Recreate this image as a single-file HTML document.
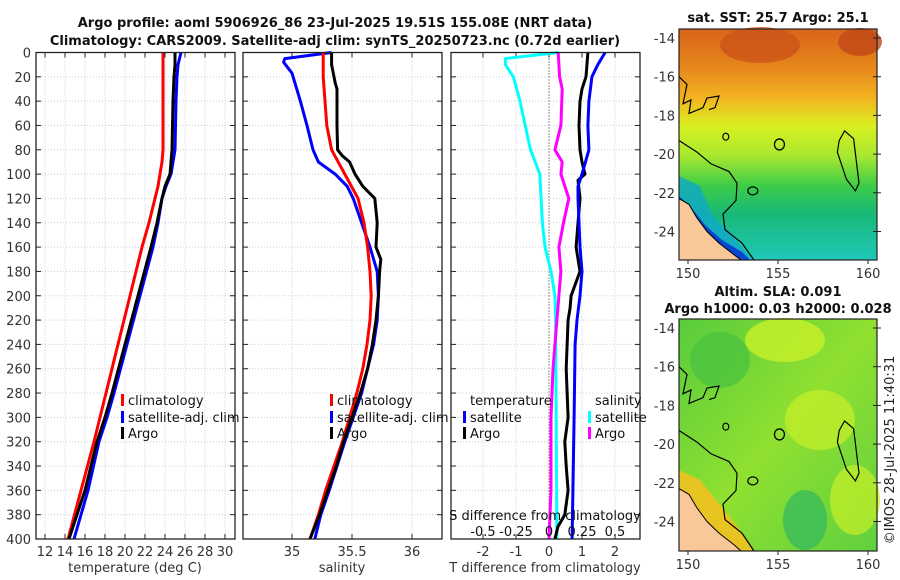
<!DOCTYPE html>
<html><head><meta charset="utf-8"><style>
body{margin:0;background:#fff;}
svg{display:block;font-family:"DejaVu Sans","Liberation Sans",sans-serif;}
</style></head><body>
<svg id="c" width="900" height="580" viewBox="0 0 900 580">
<defs>
<linearGradient id="sst" x1="0" y1="0" x2="0" y2="1">
<stop offset="0" stop-color="#d8641a"/><stop offset="0.18" stop-color="#e88a1c"/><stop offset="0.3" stop-color="#f2b420"/>
<stop offset="0.42" stop-color="#d8f020"/><stop offset="0.55" stop-color="#a8e830"/><stop offset="0.68" stop-color="#3ccc48"/>
<stop offset="0.8" stop-color="#18b878"/><stop offset="1" stop-color="#20c8b8"/></linearGradient>
<linearGradient id="sla" x1="0" y1="0" x2="1" y2="1">
<stop offset="0" stop-color="#58cc3c"/><stop offset="0.5" stop-color="#90e030"/><stop offset="1" stop-color="#60d040"/></linearGradient>
</defs>
</svg>
<script>
// ---- data (depth in m) ----
const tDepth=[0,10,20,40,80,90,100,110,120,140,160,200,240,280,300,320,360,400];
const tClim=[23.8,23.8,23.8,23.8,23.8,23.7,23.5,23.3,23.0,22.4,21.7,20.5,19.3,18.1,17.5,16.9,15.6,14.3];
const tArgo=[25.0,25.0,24.9,24.8,24.7,24.6,24.5,24.0,23.7,23.2,22.6,21.3,20.0,18.7,18.0,17.2,16.0,14.4];
const tSat=[25.6,25.3,25.2,25.1,25.0,24.8,24.6,24.1,23.7,23.3,22.8,21.5,20.2,18.9,18.2,17.4,16.3,14.9];
const sDepthSat=[0,5,8,17,40,60,80,90,100,110,120,140,160,180,200,220,240,260,280,300,320,340,360,380,400];
const sSat=[35.33,34.94,34.93,35.0,35.07,35.125,35.175,35.22,35.36,35.46,35.51,35.58,35.65,35.71,35.72,35.71,35.68,35.63,35.58,35.51,35.44,35.375,35.31,35.24,35.19];
const sDepthClim=[0,20,40,60,80,100,120,140,160,180,200,220,240,260,280,300,320,340,360,380,400];
const sClim=[35.26,35.26,35.275,35.29,35.33,35.44,35.55,35.6,35.63,35.65,35.66,35.65,35.625,35.59,35.54,35.48,35.42,35.35,35.28,35.22,35.15];
const sDepthArgo=[0,10,25,30,60,80,85,90,100,110,120,140,160,170,180,200,210,220,240,260,280,300,320,340,360,380,400];
const sArgo=[35.33,35.33,35.36,35.375,35.375,35.38,35.42,35.48,35.525,35.59,35.69,35.71,35.70,35.74,35.73,35.72,35.71,35.70,35.67,35.63,35.57,35.5,35.43,35.37,35.3,35.23,35.15];
const dDepthTSat=[0,10,20,40,60,80,100,110,120,160,180,200,220,240,300,400];
const dTSat=[1.70,1.48,1.30,1.21,1.18,1.21,1.0,0.88,0.88,0.94,1.0,0.94,0.85,0.79,0.76,0.70];
const dDepthTArgo=[0,20,30,40,60,80,90,100,105,120,140,160,180,200,210,220,260,300,320,340,360,380,390,400];
const dTArgo=[1.18,1.12,1.0,0.94,0.91,0.94,1.0,1.09,0.88,0.94,0.88,0.82,0.94,0.67,0.64,0.58,0.52,0.58,0.48,0.52,0.58,0.48,0.27,0.18];
const dDepthSSat=[0,5,10,20,40,60,80,100,140,160,180,200,220,400];
const dSSat=[0.07,-0.33,-0.33,-0.27,-0.22,-0.18,-0.14,-0.07,-0.05,-0.03,0.015,0.045,0.05,0.06];
const dDepthSArgo=[0,20,30,60,80,90,100,120,140,160,180,200,220,260,300,360,400];
const dSArgo=[0.07,0.08,0.1,0.09,0.045,0.1,0.09,0.15,0.11,0.075,0.09,0.075,0.06,0.03,0.015,0.015,0.0];
const depthTicks=[0,20,40,60,80,100,120,140,160,180,200,220,240,260,280,300,320,340,360,380,400];
const tTicks=[12,14,16,18,20,22,24,26,28,30];
const sTicks=[35,35.5,36];
const dtTicks=[-2,-1,0,1,2];
const dsTicks=[-0.5,-0.25,0,0.25,0.5];
const dsTickLabels=["-0.5","-0.25","0","0.25","0.5"];
const latTicks=[-14,-16,-18,-20,-22,-24];
const lonTicks=[150,155,160];

const svg=document.getElementById('c');
const NS='http://www.w3.org/2000/svg';
function mk(tag,a,parent){const e=document.createElementNS(NS,tag);for(const k in a)e.setAttribute(k,a[k]);(parent||svg).appendChild(e);return e;}
function txt(s,a,parent){const e=mk('text',a,parent);e.textContent=s;return e;}
const Y0=52.5,Y1=539;
const yD=d=>Y0+d*(Y1-Y0)/400;
const xT=t=>45+(t-12)*10;
const xS=s=>292+(s-35)*120;
const xDT=v=>549+v*33;
const xDS=v=>549+v*132;

function panel(name,x0,x1,xTicks,xf,labels){
  const g=mk('g',{},svg);
  
  
  depthTicks.forEach(d=>{const y=yD(d);mk('line',{x1:x0,x2:x1,y1:y,y2:y,stroke:'#c8cce0','stroke-width':1,'stroke-dasharray':'1,2'},g);
    mk('line',{x1:x0,x2:x0+5,y1:y,y2:y,stroke:'#222'},g);mk('line',{x1:x1-5,x2:x1,y1:y,y2:y,stroke:'#222'},g);});
  xTicks.forEach((t,i)=>{const x=xf(t);mk('line',{x1:x,x2:x,y1:Y0,y2:Y1,stroke:'#c8cce0','stroke-dasharray':'1,2'},g);
    mk('line',{x1:x,x2:x,y1:Y1,y2:Y1-5,stroke:'#222'},g);mk('line',{x1:x,x2:x,y1:Y0,y2:Y0+5,stroke:'#222'},g);
    if(labels){const l=txt(labels[i],{x:x,y:556,'font-size':13,'text-anchor':'middle',fill:'#333'},g);
      }});
  return g;
}
function frame(g,x0,x1){mk('rect',{x:x0,y:Y0,width:x1-x0,height:Y1-Y0,fill:'none',stroke:'#222','stroke-width':1.3},g);}
function line(g,name,dep,vals,xf,color){
  const p=mk('polyline',{points:dep.map((d,i)=>xf(vals[i]).toFixed(1)+','+yD(d).toFixed(1)).join(' '),fill:'none',stroke:color,'stroke-width':3,'stroke-linejoin':'round'},g);
  
}
function leg(g,x,y,color,label){
  mk('rect',{x:x,y:y-10,width:3,height:12,fill:color},g);
  const t=txt(label,{x:x+7,y:y+1,'font-size':13,fill:'#111'},g);
  
}

// titles
let t1=txt('Argo profile: aoml 5906926_86 23-Jul-2025 19.51S 155.08E (NRT data)',{x:335,y:27,'font-size':13,'font-weight':'bold','text-anchor':'middle',fill:'#111'});

let t2=txt('Climatology: CARS2009. Satellite-adj clim: synTS_20250723.nc (0.72d earlier)',{x:335,y:45,'font-size':13,'font-weight':'bold','text-anchor':'middle',fill:'#111'});


// panel 1
const p1=panel('temperature-panel',36,235,tTicks,xT,tTicks.map(String));
depthTicks.forEach(d=>{const l=txt(String(d),{x:31,y:yD(d)+5,'font-size':13,'text-anchor':'end',fill:'#333'},p1);
  });
line(p1,'temperature-climatology-line',tDepth,tClim,xT,'#ff0000');
line(p1,'temperature-satellite-line',tDepth,tSat,xT,'#0000ff');
line(p1,'temperature-argo-line',tDepth,tArgo,xT,'#000');
frame(p1,36,235);
leg(p1,121,404,'#ff0000','climatology');leg(p1,121,421,'#0000ff','satellite-adj. clim');leg(p1,121,437,'#000','Argo');
let xl1=txt('temperature (deg C)',{x:135,y:572,'font-size':13,'text-anchor':'middle',fill:'#333'},p1);


// panel 2
const p2=panel('salinity-panel',243,442,sTicks,xS,["35","35.5","36"]);
line(p2,'salinity-satellite-line',sDepthSat,sSat,xS,'#0000ff');
line(p2,'salinity-climatology-line',sDepthClim,sClim,xS,'#ff0000');
line(p2,'salinity-argo-line',sDepthArgo,sArgo,xS,'#000');
frame(p2,243,442);
leg(p2,330,404,'#ff0000','climatology');leg(p2,330,421,'#0000ff','satellite-adj. clim');leg(p2,330,437,'#000','Argo');
let xl2=txt('salinity',{x:342,y:572,'font-size':13,'text-anchor':'middle',fill:'#333'},p2);


// panel 3
const p3=panel('difference-panel',451,640,dtTicks,xDT,dtTicks.map(String));
mk('line',{x1:549,x2:549,y1:Y0,y2:Y1,stroke:'#554433','stroke-dasharray':'1,2','stroke-width':1.2},p3);
line(p3,'salinity-satellite-diff-line',dDepthSSat,dSSat,xDS,'#00ffff');
line(p3,'salinity-argo-diff-line',dDepthSArgo,dSArgo,xDS,'#ff00ff');
line(p3,'temperature-argo-diff-line',dDepthTArgo,dTArgo,xDT,'#000');
line(p3,'temperature-satellite-diff-line',dDepthTSat,dTSat,xDT,'#0000ff');
frame(p3,451,640);
txt('temperature',{x:470,y:405,'font-size':13,fill:'#111'},p3);
txt('salinity',{x:595,y:405,'font-size':13,fill:'#111'},p3);
leg(p3,463,421,'#0000ff','satellite');leg(p3,463,437,'#000','Argo');
leg(p3,588,421,'#00ffff','satellite');leg(p3,588,437,'#ff00ff','Argo');
txt('S difference from climatology',{x:545,y:520,'font-size':13,'text-anchor':'middle',fill:'#111'},p3);
dsTicks.forEach((v,i)=>{const l=txt(dsTickLabels[i],{x:xDS(v),y:536,'font-size':13,'text-anchor':'middle',fill:'#111'},p3);
  });
let xl3=txt('T difference from climatology',{x:545,y:572,'font-size':13,'text-anchor':'middle',fill:'#333'},p3);


// maps
function map(name,top,bot,latTop,fill){
  const g=mk('g',{},svg);
  
  const L=679,R=877;
  const yl=lat=>latTop+(-14-lat)*19.35;
  const xl=lon=>688+(lon-150)*18;
  mk('rect',{x:L,y:top,width:R-L,height:bot-top,fill:fill},g);
  return {g,L,R,yl,xl};
}
function mapDecor(m,top,bot){
  const {g,L,R,yl,xl}=m;
  mk('polygon',{points:`${L},${yl(-22.3)} ${L+10},${yl(-22.6)} ${L+18},${yl(-23.3)} ${L+28},${yl(-24)} ${L+40},${yl(-24.6)} ${L+55},${yl(-25.2)} ${L+62},${bot} ${L},${bot}`,fill:'#f8c898'},g);
  mk('polyline',{points:`${L},${yl(-22.3)} ${L+10},${yl(-22.6)} ${L+18},${yl(-23.3)} ${L+28},${yl(-24)} ${L+40},${yl(-24.6)} ${L+55},${yl(-25.2)} ${L+62},${bot}`,fill:'none',stroke:'#000','stroke-width':1},g);
  mk('polyline',{points:`${L},${yl(-19.3)} ${L+18},${yl(-19.9)} ${L+32},${yl(-20.5)} ${L+50},${yl(-20.9)} ${L+58},${yl(-21.5)} ${L+57},${yl(-22.4)} ${L+44},${yl(-23.1)} ${L+46},${yl(-23.9)} ${L+63},${yl(-24.6)} ${L+75},${bot}`,fill:'none',stroke:'#000','stroke-width':1.2},g);
  mk('ellipse',{cx:xl(155.08),cy:yl(-19.5),rx:5,ry:5.5,fill:'none',stroke:'#000','stroke-width':1.3},g);
  mk('polyline',{points:`${xl(158.4)},${yl(-19.3)} ${xl(158.7)},${yl(-18.8)} ${xl(159.2)},${yl(-19.2)} ${xl(159.5)},${yl(-21.5)} ${xl(159.3)},${yl(-21.9)} ${xl(158.8)},${yl(-21.3)} ${xl(158.3)},${yl(-19.9)} ${xl(158.4)},${yl(-19.3)}`,fill:'none',stroke:'#000','stroke-width':1.2},g);
  mk('polyline',{points:`${L},${yl(-16)} ${L+8},${yl(-16.4)} ${L+4},${yl(-17.4)} ${L+12},${yl(-17.2)} ${L+10},${yl(-17.9)} ${L+24},${yl(-17.6)} ${L+28},${yl(-17.1)} ${L+40},${yl(-17)} ${L+36},${yl(-17.6)} ${L+30},${yl(-17.7)}`,fill:'none',stroke:'#000','stroke-width':1.2},g);
  mk('ellipse',{cx:xl(152.1),cy:yl(-19.1),rx:3,ry:3.5,fill:'none',stroke:'#000','stroke-width':1.2},g);
  mk('ellipse',{cx:xl(153.6),cy:yl(-21.9),rx:5,ry:4,fill:'none',stroke:'#000','stroke-width':1.2},g);
  mk('rect',{x:L,y:top,width:R-L,height:bot-top,fill:'none',stroke:'#222','stroke-width':1.2},g);
  latTicks.forEach(la=>{const y=yl(la);mk('line',{x1:R,x2:R-4,y1:y,y2:y,stroke:'#222'},g);mk('line',{x1:R,x2:R+4,y1:y,y2:y,stroke:'#222'},g);
    const l=txt(String(la),{x:L-4,y:y+5,'font-size':13,'text-anchor':'end',fill:'#333'},g);
    });
  lonTicks.forEach(lo=>{const x=xl(lo);mk('line',{x1:x,x2:x,y1:bot,y2:bot+4,stroke:'#222'},g);
    const l=txt(String(lo),{x:x,y:bot+18,'font-size':13,'text-anchor':'middle',fill:'#333'},g);
    });
}
const m1=map('sst-map',29,260,38,'url(#sst)');
mk('ellipse',{cx:760,cy:45,rx:40,ry:18,fill:'#cc5418',opacity:0.8},m1.g);
mk('ellipse',{cx:860,cy:42,rx:22,ry:14,fill:'#c04818',opacity:0.8},m1.g);
mk('polygon',{points:`679,176 700,186 712,215 740,245 752,260 700,260 679,240`,fill:'#10a8c8',opacity:0.8},m1.g);
mk('polygon',{points:`679,196 690,206 705,225 722,240 742,252 750,260 720,260 679,230`,fill:'#0838d0',opacity:0.9},m1.g);
mapDecor(m1,29,260);
let mt1=txt('sat. SST: 25.7 Argo: 25.1',{x:778,y:22,'font-size':13,'font-weight':'bold','text-anchor':'middle',fill:'#111'});


const m2=map('sla-map',319,551,328,'url(#sla)');
mk('ellipse',{cx:785,cy:340,rx:40,ry:22,fill:'#c8f028',opacity:0.8},m2.g);
mk('ellipse',{cx:820,cy:420,rx:35,ry:30,fill:'#c8f028',opacity:0.7},m2.g);
mk('ellipse',{cx:855,cy:500,rx:25,ry:35,fill:'#c8f028',opacity:0.7},m2.g);
mk('ellipse',{cx:720,cy:360,rx:30,ry:28,fill:'#48c040',opacity:0.7},m2.g);
mk('ellipse',{cx:805,cy:520,rx:22,ry:30,fill:'#30b860',opacity:0.7},m2.g);
mk('polygon',{points:`679,470 700,480 720,505 740,530 755,551 700,551 679,540`,fill:'#f8c020',opacity:0.85},m2.g);
mapDecor(m2,319,551);
let mt2=txt('Altim. SLA: 0.091',{x:778,y:296,'font-size':13,'font-weight':'bold','text-anchor':'middle',fill:'#111'});

let mt3=txt('Argo h1000: 0.03 h2000: 0.028',{x:778,y:313,'font-size':13,'font-weight':'bold','text-anchor':'middle',fill:'#111'});

let cr=txt('©IMOS 28-Jul-2025 11:40:31',{x:0,y:0,'font-size':13,'text-anchor':'middle',fill:'#222',transform:'translate(894,450) rotate(-90)'});

</script>
</body></html>
